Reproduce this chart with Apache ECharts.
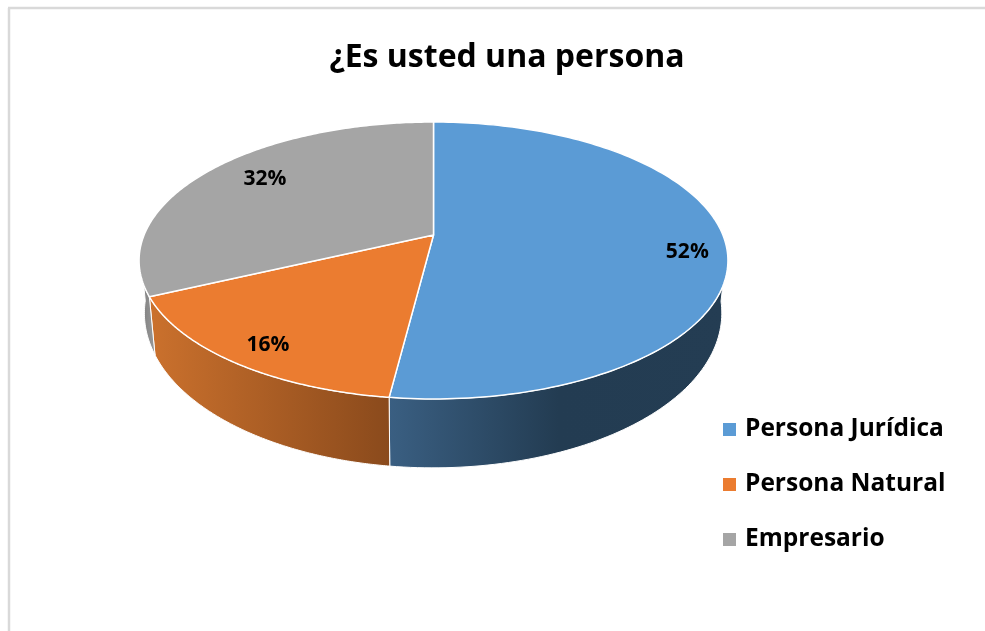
<!DOCTYPE html>
<html>
<head>
<meta charset="utf-8">
<style>html,body{margin:0;padding:0;background:#fff}#c{width:985px;height:631px}</style>
<script src="https://cdn.jsdelivr.net/npm/echarts@6/dist/echarts.min.js"></script>
</head>
<body>
<div id="c"></div>
<script>
const chartTitle = '¿Es usted una persona';
const categories = ['Persona Jurídica', 'Persona Natural', 'Empresario'];
const percentages = [52, 16, 32];
const topColors = ['#5B9BD5', '#EB7C30', '#A5A5A5'];
const wallStops = [
  [[0, '#3A5F82'], [0.5, '#233C52'], [1, '#243D53']],
  [[0, '#CB712D'], [1, '#8A4A1C']],
  [[0, '#7A7A7A'], [1, '#9A9A9A']]
];
const labelFont = '"Open Sans", sans-serif';

// Perspective projection of the pie disc onto the page
const CX = 433.5, APEX_Y = 235, SCALE_X = 289.4, SCALE_Y = 90.54, PERSP = -0.184;
const VANISH_X = 413, VANISH_Y = 3023;
const labelRadius = [0.87, 0.85, 0.74];
const labelShiftY = [10, 5, -7];

function project(angle, r) {
  const u = Math.sin(angle) * r, v = -Math.cos(angle) * r;
  const w = 1 + PERSP * v;
  return [CX + SCALE_X * u / w, (SCALE_Y * v + APEX_Y) / w];
}
function drop(p, angle) {
  const depth = 50.3 + 18.6 * (-Math.cos(angle));
  const k = depth / (VANISH_Y - p[1]);
  return [p[0] + (VANISH_X - p[0]) * k, p[1] + depth];
}
const total = percentages.reduce((a, b) => a + b, 0);
function startAngle(i) {
  return percentages.slice(0, i).reduce((a, b) => a + b, 0) / total * Math.PI * 2;
}
function makeRender(i) {
  return function (params, api) {
    const a0 = startAngle(i);
    const a1 = a0 + api.value(0) / total * Math.PI * 2;
    const steps = 160;
    const arc = [], upper = [], lower = [];
    for (let s = 0; s <= steps; s++) {
      const a = a0 + (a1 - a0) * s / steps;
      const p = project(a, 1);
      arc.push(p);
      if (-Math.cos(a) >= 0.1) {
        upper.push(p);
        lower.push(drop(p, a));
      }
    }
    const children = [];
    if (upper.length > 1) {
      children.push({
        type: 'polygon', z2: 1,
        shape: { points: upper.concat(lower.slice().reverse()) },
        style: {
          fill: new echarts.graphic.LinearGradient(0, 0, 1, 0,
            wallStops[i].map(s => ({ offset: s[0], color: s[1] }))),
          stroke: '#FFFFFF', lineWidth: 1
        }
      });
    }
    children.push({
      type: 'polygon', z2: 2,
      shape: { points: [project(0, 0)].concat(arc) },
      style: { fill: topColors[i], stroke: '#FFFFFF', lineWidth: 1.5, lineJoin: 'round' }
    });
    const mid = (a0 + a1) / 2;
    const lp = project(mid, labelRadius[i]);
    children.push({
      type: 'text', z2: 3,
      x: lp[0], y: lp[1] + labelShiftY[i],
      style: {
        text: api.value(0) + '%', fill: '#000000',
        font: 'bold 21px ' + labelFont, align: 'center', verticalAlign: 'middle'
      }
    });
    return { type: 'group', children: children };
  };
}

const chart = echarts.init(document.getElementById('c'), null, { renderer: 'canvas' });
chart.setOption({
  animation: false,
  backgroundColor: '#FFFFFF',
  title: {
    text: chartTitle, left: 502, top: 37, textAlign: 'center',
    textStyle: { fontFamily: labelFont, fontWeight: 'bold', fontSize: 32, color: '#000000' }
  },
  legend: {
    orient: 'vertical', left: 723, top: 417, padding: 0, itemWidth: 13, itemHeight: 13, itemGap: 30,
    icon: 'rect', data: categories,
    textStyle: { fontFamily: labelFont, fontWeight: 'bold', fontSize: 24.5, color: '#000000', padding: [0, 0, 0, 4] }
  },
  graphic: [
    { type: 'line', silent: true, shape: { x1: 9, y1: 8, x2: 9, y2: 631 }, style: { stroke: '#D9D9D9', lineWidth: 2.5 } },
    { type: 'line', silent: true, shape: { x1: 8, y1: 8, x2: 985, y2: 8 }, style: { stroke: '#D9D9D9', lineWidth: 2.5 } }
  ],
  series: categories.map((name, i) => ({
    type: 'custom', name: name, coordinateSystem: 'none',
    itemStyle: { color: topColors[i] },
    data: [[percentages[i]]],
    encode: { value: 0 },
    renderItem: makeRender(i)
  }))
});
</script>
</body>
</html>
